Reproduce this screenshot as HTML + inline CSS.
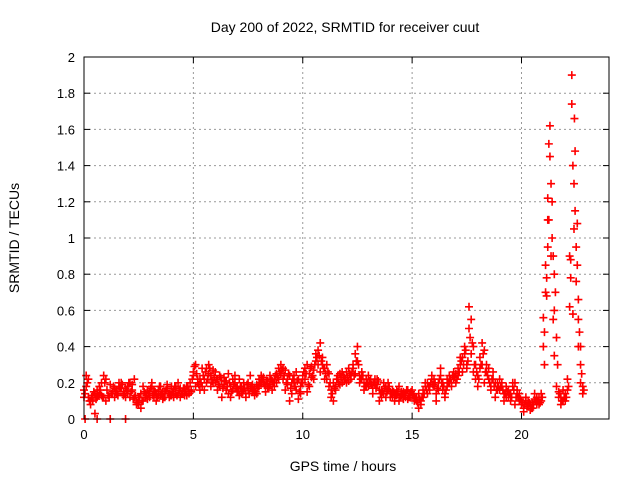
<!DOCTYPE html>
<html><head><meta charset="utf-8"><style>
body{margin:0;background:#fff;}
svg{display:block;font-family:"Liberation Sans",sans-serif;}
</style></head><body>
<svg id="c" width="640" height="480">
<text x="345" y="32" font-size="14" text-anchor="middle">Day 200 of 2022, SRMTID for receiver cuut</text>
<text x="343" y="471" font-size="14" text-anchor="middle">GPS time / hours</text>
<text transform="translate(19,238) rotate(-90)" font-size="14" text-anchor="middle">SRMTID / TECUs</text>
<g id="grid"></g><g id="marks"></g>
<rect x="84" y="57" width="525" height="362" fill="none" stroke="#000" stroke-width="1"/>
</svg>
<script>
const xTicks=[0,5,10,15,20];
const yTicks=[0,0.2,0.4,0.6,0.8,1,1.2,1.4,1.6,1.8,2];
const tStep=0.1;
const seriesA=[0.16,0.24,0.12,0.10,0.13,0.03,0.12,0.14,0.13,0.24,
0.22,null,null,0.15,0.17,0.14,0.18,0.20,0.15,0.17,
0.18,0.20,0.16,0.12,0.10,0.08,0.14,0.10,0.12,0.16,
0.15,0.18,0.12,0.14,0.16,0.13,0.11,0.15,0.17,0.14,
0.13,0.16,0.18,0.14,0.12,0.15,0.17,0.13,0.16,0.15,
0.26,0.30,0.22,0.16,0.18,0.22,0.28,0.30,0.24,0.20,
0.26,0.22,0.18,0.21,0.23,0.16,0.14,0.18,0.22,0.24,
0.15,0.13,0.18,0.16,0.14,0.20,0.17,0.15,0.13,0.19,
0.22,0.24,0.20,0.18,0.21,0.19,0.16,0.22,0.25,0.28,
0.30,0.22,0.27,0.19,0.24,0.14,0.20,0.26,0.11,0.18,
0.24,0.28,0.30,0.18,0.23,0.27,0.32,0.38,0.42,0.30,
0.28,0.22,0.25,0.16,0.10,0.18,0.22,0.25,0.20,0.23,
0.26,0.21,0.24,0.28,0.36,0.40,0.24,0.22,0.20,0.18,
0.24,0.20,0.17,0.22,0.19,0.16,0.12,0.14,0.18,0.20,
0.15,0.12,0.14,0.16,0.10,0.13,0.15,0.12,0.11,0.14,
0.16,0.12,0.10,0.14,0.08,0.12,0.18,0.20,0.16,0.22,
0.18,0.14,0.20,0.24,0.16,0.12,0.22,0.20,0.18,0.22,
0.25,0.28,0.30,0.34,0.36,0.30,0.62,0.55,0.40,0.30,
0.24,0.28,0.42,0.38,0.30,0.22,0.18,0.26,0.20,0.16,
0.22,0.18,0.14,0.12,0.16,0.10,0.18,0.20,0.14,0.10,
0.08,0.06,0.10,0.07,0.05,0.09,0.11,0.08,0.12,0.10,
0.56,0.85,1.22,1.62,1.00,0.60,0.18,0.15,0.12,0.10,
0.14,0.16,0.62,1.90,1.30,0.76,0.40,0.20,0.18];
const seriesB=[0.12,0.18,0.22,0.08,0.10,0.14,0.16,0.18,0.20,0.12,
0.10,0.13,0.19,0.14,0.12,0.16,0.20,0.17,0.13,0.12,
0.14,0.12,0.19,0.22,0.08,0.12,0.06,0.18,0.14,0.11,
0.12,0.20,0.16,0.10,0.13,0.18,0.15,0.12,0.19,0.12,
0.18,0.12,0.14,0.20,0.17,0.14,0.13,0.18,0.14,0.16,
0.24,0.18,0.20,0.22,0.28,0.16,0.20,0.25,0.18,0.27,
0.20,0.16,0.24,0.12,0.19,0.21,0.25,0.12,0.16,0.20,
0.18,0.22,0.14,0.20,0.12,0.16,0.24,0.19,0.17,0.14,
0.18,0.20,0.23,0.15,0.17,0.24,0.21,0.18,0.20,0.22,
0.25,0.28,0.16,0.22,0.10,0.20,0.24,0.16,0.22,0.14,
0.20,0.22,0.15,0.25,0.29,0.22,0.36,0.30,0.26,0.34,
0.22,0.30,0.18,0.12,0.20,0.16,0.24,0.19,0.26,0.21,
0.20,0.28,0.22,0.30,0.25,0.32,0.20,0.26,0.16,0.22,
0.18,0.22,0.14,0.19,0.22,0.10,0.16,0.20,0.12,0.16,
0.12,0.16,0.10,0.13,0.18,0.15,0.11,0.14,0.16,0.12,
0.14,0.10,0.12,0.06,0.10,0.16,0.20,0.14,0.18,0.24,
0.22,0.10,0.16,0.28,0.20,0.14,0.18,0.24,0.20,0.26,
0.20,0.24,0.34,0.26,0.40,0.28,0.50,0.36,0.26,0.22,
0.18,0.34,0.30,0.20,0.26,0.28,0.16,0.22,0.12,0.20,
0.16,0.20,0.10,0.18,0.12,0.14,0.20,0.08,0.16,0.14,
0.10,0.04,0.12,0.10,0.08,0.06,0.14,0.12,0.08,0.14,
0.40,0.70,0.95,1.45,1.20,0.80,0.45,0.12,0.08,0.16,
0.10,0.22,0.90,1.74,1.05,0.95,0.55,0.30,0.14];
const seriesC=[0.14,0.20,0.10,0.12,0.15,0.11,0.13,0.16,0.12,0.20,
0.16,0.12,0.14,0.18,0.15,0.13,0.17,0.19,0.14,0.16,
0.20,0.15,0.11,0.13,0.09,0.12,0.10,0.15,0.13,0.14,
0.17,0.13,0.15,0.12,0.18,0.14,0.12,0.16,0.14,0.13,
0.15,0.18,0.13,0.16,0.14,0.17,0.15,0.18,0.20,0.22,
0.29,0.25,0.19,0.20,0.24,0.26,0.22,0.28,0.21,0.23,
0.22,0.19,0.23,0.17,0.21,0.18,0.20,0.15,0.19,0.17,
0.16,0.18,0.15,0.17,0.19,0.14,0.18,0.16,0.15,0.17,
0.20,0.22,0.19,0.21,0.18,0.22,0.20,0.24,0.23,0.26,
0.27,0.24,0.20,0.25,0.17,0.22,0.18,0.21,0.15,0.20,
0.26,0.25,0.19,0.28,0.24,0.30,0.34,0.35,0.32,0.28,
0.25,0.26,0.20,0.14,0.17,0.22,0.20,0.23,0.24,0.22,
0.23,0.25,0.26,0.24,0.32,0.30,0.22,0.24,0.18,0.20,
0.21,0.19,0.20,0.17,0.21,0.14,0.15,0.17,0.15,0.18,
0.14,0.15,0.13,0.15,0.12,0.14,0.13,0.16,0.12,0.15,
0.13,0.11,0.09,0.11,0.12,0.14,0.16,0.18,0.20,0.19,
0.20,0.17,0.22,0.20,0.18,0.16,0.20,0.22,0.24,0.23,
0.22,0.26,0.32,0.30,0.38,0.32,0.45,0.42,0.30,0.26,
0.22,0.30,0.36,0.26,0.24,0.20,0.22,0.18,0.16,0.18,
0.18,0.16,0.14,0.15,0.14,0.12,0.16,0.12,0.12,0.11,
0.09,0.08,0.07,0.09,0.06,0.08,0.10,0.10,0.09,0.12,
0.48,0.78,1.10,1.30,0.90,0.70,0.30,0.14,0.10,0.12,
0.12,0.18,0.78,1.40,1.15,0.85,0.48,0.25,0.16];
const extraT=[0.05,0.6,1.2,1.9,21.05,21.15,21.2,21.25,21.35,21.45,21.5,22.25,22.35,22.42,22.45,22.55,22.6,22.7];
const extraV=[0,0,0,0,0.30,0.68,1.10,1.52,0.90,0.55,0.35,0.88,0.58,1.66,1.48,1.08,0.66,0.40];

const X0=84,X1=609,Y0=419,Y1=57,XMAX=24,YMAX=2;
const sx=v=>X0+v/XMAX*(X1-X0);
const sy=v=>Y0-v/YMAX*(Y0-Y1);
const NS="http://www.w3.org/2000/svg";
const grid=document.getElementById('grid'),marks=document.getElementById('marks');
function mk(tag,a,p){const e=document.createElementNS(NS,tag);for(const k in a)e.setAttribute(k,a[k]);p.appendChild(e);return e;}
xTicks.forEach(v=>{const x=sx(v);
 if(v>0){const g=mk('line',{x1:x,y1:Y0,x2:x,y2:Y1,stroke:'#999','stroke-dasharray':'2,3'},grid);
 
 }
 mk('line',{x1:x,y1:Y0,x2:x,y2:Y0-6,stroke:'#000'},grid);
 mk('line',{x1:x,y1:Y1,x2:x,y2:Y1+6,stroke:'#000'},grid);
 const t=mk('text',{x:x,y:Y0+20,'font-size':13,'text-anchor':'middle'},grid);t.textContent=v;
 
 
});
yTicks.forEach(v=>{const y=sy(v);
 if(v>0&&v<2){const g=mk('line',{x1:X0,y1:y,x2:X1,y2:y,stroke:'#999','stroke-dasharray':'2,3'},grid);
 
 }
 mk('line',{x1:X0,y1:y,x2:X0+6,y2:y,stroke:'#000'},grid);
 mk('line',{x1:X1,y1:y,x2:X1-6,y2:y,stroke:'#000'},grid);
 const t=mk('text',{x:X0-9,y:y+5,'font-size':13,'text-anchor':'end'},grid);t.textContent=v;
 
 
});
function plus(t,v){const x=sx(t),y=sy(v);
 const p=mk('path',{d:`M${x-4} ${y}H${x+4}M${x} ${y-4}V${y+4}`,stroke:'#f00','stroke-width':1.6,fill:'none'},marks);
 
 
}
[seriesA,seriesB].forEach(s=>s.forEach((v,i)=>{if(v!==null)plus(i*tStep,v);}));
seriesC.forEach((v,i)=>{if(v!==null)plus(i*tStep+tStep/2,v);});
extraT.forEach((t,i)=>plus(t,extraV[i]));
</script>
</body></html>
